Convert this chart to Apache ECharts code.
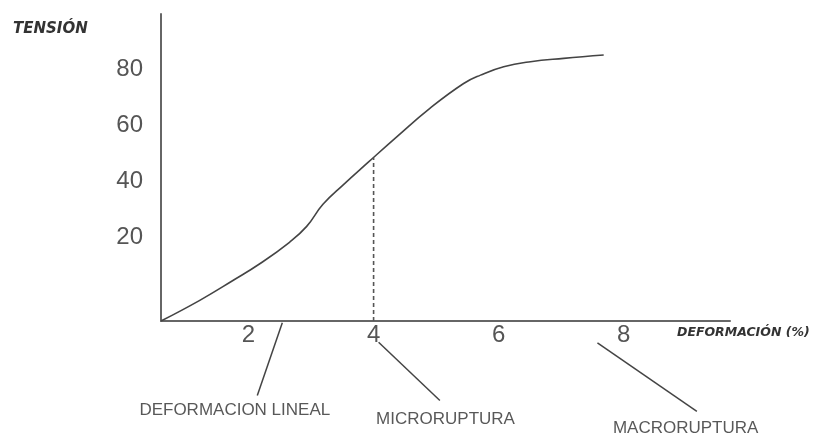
<!DOCTYPE html>
<html>
<head>
<meta charset="utf-8">
<script src="https://cdn.jsdelivr.net/npm/echarts@6/dist/echarts.min.js"></script>
<style>html,body{margin:0;padding:0;background:#fff}#c{width:839px;height:433px}</style>
</head>
<body>
<div id="c"></div>
<script>
// Curve: deformation (%) vs tension
const deformacion = [0.6, 1.22, 1.75, 2.18, 2.66, 2.93, 3.19, 3.51, 3.92, 4.37, 4.90, 5.44, 5.71, 6.08, 6.51, 7.04, 7.68];
const tension     = [-10, -2.6, 4.5, 10.5, 18.3, 23.9, 31.8, 38.7, 47.0, 56.0, 66.2, 75.1, 78.1, 81.1, 82.9, 84.1, 85.3];
// dashed reference at 4 %
const refX = 4;
const refTop = 48.5;
// tick labels
const xTicks = [2, 4, 6, 8];
const yTicks = [20, 40, 60, 80];
// annotations
const annNames = ['DEFORMACION LINEAL', 'MICRORUPTURA', 'MACRORUPTURA'];
const annLeaderStart = [[2.54, -10.6], [4.08, -17.6], [7.58, -17.8]];
const annLeaderEnd   = [[2.14, -36.7], [5.06, -38.5], [9.17, -42.4]];
const annLabelAt     = [[1.78, -42.1], [5.15, -45.4], [8.99, -48.6]];

const chart = echarts.init(document.getElementById('c'));
const lineColor = '#444';
const series = [
  {
    type: 'line', data: deformacion.map((x, i) => [x, tension[i]]),
    smooth: 0.45, showSymbol: false, clip: false,
    lineStyle: { color: lineColor, width: 1.6 }
  },
  {
    type: 'line', data: [[refX, -10], [refX, refTop]],
    showSymbol: false, clip: false,
    lineStyle: { color: '#555', width: 1.6, type: [4, 3] }
  }
];
annNames.forEach((n, i) => {
  series.push({
    type: 'line', data: [annLeaderStart[i], annLeaderEnd[i]],
    showSymbol: false, clip: false,
    lineStyle: { color: lineColor, width: 1.5 }
  });
});
series.push({
  type: 'scatter', clip: false, symbolSize: 0,
  data: annNames.map((n, i) => ({ name: n, value: annLabelAt[i] })),
  label: { show: true, position: 'inside', formatter: '{b}', fontFamily: 'Liberation Sans', fontSize: 17, color: '#2e2e2e' }
});

chart.setOption({
  animation: false,
  backgroundColor: '#fff',
  title: [
    { text: 'TENSIÓN', left: 13, top: 22, padding: 0,
      textStyle: { fontFamily: 'DejaVu Sans', fontWeight: 'bold', fontStyle: 'italic', fontSize: 15, color: '#333' } },
    { text: 'DEFORMACIÓN (%)', left: 677, top: 326, padding: 0,
      textStyle: { fontFamily: 'DejaVu Sans', fontWeight: 'bold', fontStyle: 'italic', fontSize: 12.5, color: '#333' } }
  ],
  grid: { left: 161, right: 109, top: 14, bottom: 112, containLabel: false },
  xAxis: {
    type: 'value', min: 0.6, max: 9.7,
    axisLine: { show: true, onZero: false, lineStyle: { color: '#666', width: 2 } },
    axisTick: { show: false },
    splitLine: { show: false },
    axisLabel: { customValues: xTicks, fontFamily: 'Liberation Sans', fontSize: 24, color: '#555', margin: 2 }
  },
  yAxis: {
    type: 'value', min: -10, max: 100,
    axisLine: { show: true, onZero: false, lineStyle: { color: '#666', width: 2 } },
    axisTick: { show: false },
    splitLine: { show: false },
    axisLabel: { customValues: yTicks, fontFamily: 'Liberation Sans', fontSize: 24, color: '#555', margin: 18 }
  },
  series: series
});
</script>
</body>
</html>
